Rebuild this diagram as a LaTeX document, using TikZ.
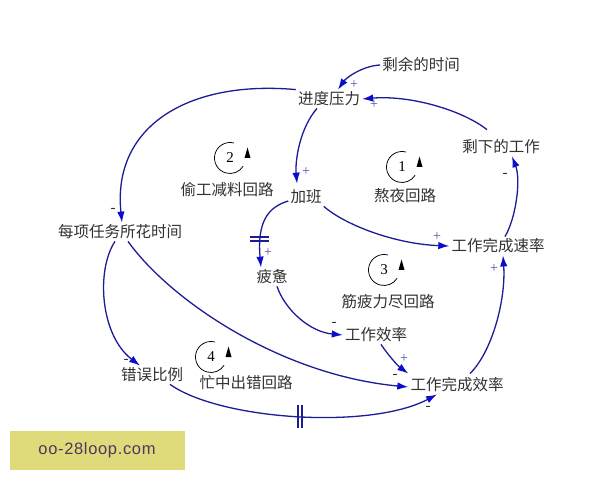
\documentclass[tikz,border=0pt]{standalone}
\usepackage{fontspec}
\setmainfont{Liberation Serif}
\newfontfamily\cjk{Noto Sans CJK SC}
\newfontfamily\wmfont[LetterSpace=4]{Liberation Sans}
\usetikzlibrary{arrows.meta}
\definecolor{lnk}{RGB}{28,28,150}
\definecolor{tipc}{RGB}{12,12,205}
\definecolor{txt}{RGB}{50,50,50}
\definecolor{plusc}{RGB}{80,80,160}
\definecolor{minusc}{RGB}{45,45,55}
\definecolor{wmbg}{RGB}{224,219,122}
\definecolor{wmtx}{RGB}{80,55,95}
\tikzset{
  var/.style={font=\cjk\fontsize{15.5}{18}\selectfont, text=txt, inner sep=2pt},
  link/.style={draw=lnk, line width=1.3pt, -{Latex[length=11pt,width=7.5pt,color=tipc]}},
  plus/.style={font=\fontsize{14}{14}\selectfont, text=plusc, inner sep=0pt},
  minus/.style={font=\fontsize{15}{15}\selectfont, text=minusc, inner sep=0pt},
  delaymark/.style={draw=lnk, line width=1.1pt},
  loopsym/.pic={
    \draw[line width=0.75pt, black] (75:15.5) arc (75:328:15.5);
    \fill[black] (17.5,10.5) -- (14.5,0) -- (20.5,0) -- cycle;
    \node[font=\fontsize{15}{15}\selectfont, inner sep=0pt] at (0,0) {#1};
  }
}
\begin{document}
\begin{tikzpicture}[x=1pt,y=1pt]
\useasboundingbox (0,0) rectangle (600,480);
\fill[white] (0,0) rectangle (600,480);

% variables
\node[var] (syst) at (421,415) {剩余的时间};
\node[var] (jdyl) at (329,381) {进度压力};
\node[var] (sxgz) at (501,333) {剩下的工作};
\node[var] (jb)   at (306,283) {加班};
\node[var] (l1)   at (405,284) {熬夜回路};
\node[var] (l2)   at (227,290) {偷工减料回路};
\node[var] (mx)   at (120,248) {每项任务所花时间};
\node[var] (sl)   at (498,234) {工作完成速率};
\node[var] (pb)   at (272,203) {疲惫};
\node[var] (l3)   at (388,178) {筋疲力尽回路};
\node[var] (xl)   at (376,145) {工作效率};
\node[var] (cw)   at (152,105) {错误比例};
\node[var] (l4)   at (246,97)  {忙中出错回路};
\node[var] (wc)   at (457,95)  {工作完成效率};

% loop symbols
\pic at (402,313) {loopsym=1};
\pic at (230,322) {loopsym=2};
\pic at (384,210) {loopsym=3};
\pic at (211,123) {loopsym=4};

% connectors
\draw[link] (syst.west) .. controls (362,414) and (346,402) .. ([xshift=9pt]jdyl.north);
\draw[link] ([shift={(-14pt,8pt)}]sxgz.north) .. controls (462,370) and (410,385) .. (jdyl.east);
\draw[link] (jdyl.north west) .. controls (190,400) and (112,355) .. ([xshift=2pt]mx.north);
\draw[link] ([xshift=-12pt]jdyl.south) .. controls (300,352) and (295,320) .. ([shift={(-9pt,4pt)}]jb.north);
\draw[link] (jb.south east) .. controls (345,255) and (395,236) .. (sl.west);
\draw[link] ([xshift=7pt]sl.north) .. controls (516,262) and (521,300) .. ([xshift=11pt]sxgz.south);
\draw[link] ([yshift=-4pt]jb.west) .. controls (268,273) and (257,258) .. ([xshift=-11pt]pb.north);
\draw[link] ([xshift=5pt]pb.south) .. controls (285,170) and (310,148) .. (xl.west);
\draw[link] ([xshift=5pt]xl.south) .. controls (388,125) and (398,114) .. ([yshift=2pt]wc.north west);
\draw[link] ([xshift=8pt]mx.south) .. controls (170,180) and (280,105) .. ([yshift=-2pt]wc.west);
\draw[link] ([xshift=-5pt]mx.south) .. controls (96,210) and (100,145) .. ([xshift=-12pt]cw.north);
\draw[link] ([xshift=18pt]cw.south) .. controls (220,60) and (370,50) .. ([xshift=-20pt]wc.south);
\draw[link] ([shift={(13pt,2pt)}]wc.north) .. controls (492,128) and (506,180) .. ([xshift=5pt]sl.south);

% delay marks
\coordinate (d1) at (260,241);
\draw[delaymark] ([shift={(-10pt,2pt)}]d1) -- ([shift={(9pt,2pt)}]d1);
\draw[delaymark] ([shift={(-10pt,-2pt)}]d1) -- ([shift={(9pt,-2pt)}]d1);
\coordinate (d2) at (300,63.5);
\draw[delaymark] ([shift={(-2pt,-11.5pt)}]d2) -- ([shift={(-2pt,11.5pt)}]d2);
\draw[delaymark] ([shift={(2pt,-11.5pt)}]d2) -- ([shift={(2pt,11.5pt)}]d2);

% polarity signs
\node[plus] (p1) at (354,395) {+};
\node[plus] (p2) at (374,375) {+};
\node[minus] (m1) at (113,270) {-};
\node[plus] (p3) at (306,308) {+};
\node[plus] (p4) at (437,243) {+};
\node[minus] (m2) at (505,305) {-};
\node[plus] (p5) at (268,227) {+};
\node[minus] (m3) at (334,156) {-};
\node[plus] (p6) at (404,121) {+};
\node[minus] (m4) at (395,104) {-};
\node[minus] (m5) at (126,119) {-};
\node[minus] (m6) at (428,72) {-};
\node[plus] (p7) at (494,211) {+};

% watermark
\fill[wmbg] (10,10) rectangle (185,49);
\node[font=\wmfont\fontsize{16.5}{18}\selectfont, text=wmtx, inner sep=0pt] (wm) at (97,30) {oo-28loop.com};
\end{tikzpicture}
\end{document}
